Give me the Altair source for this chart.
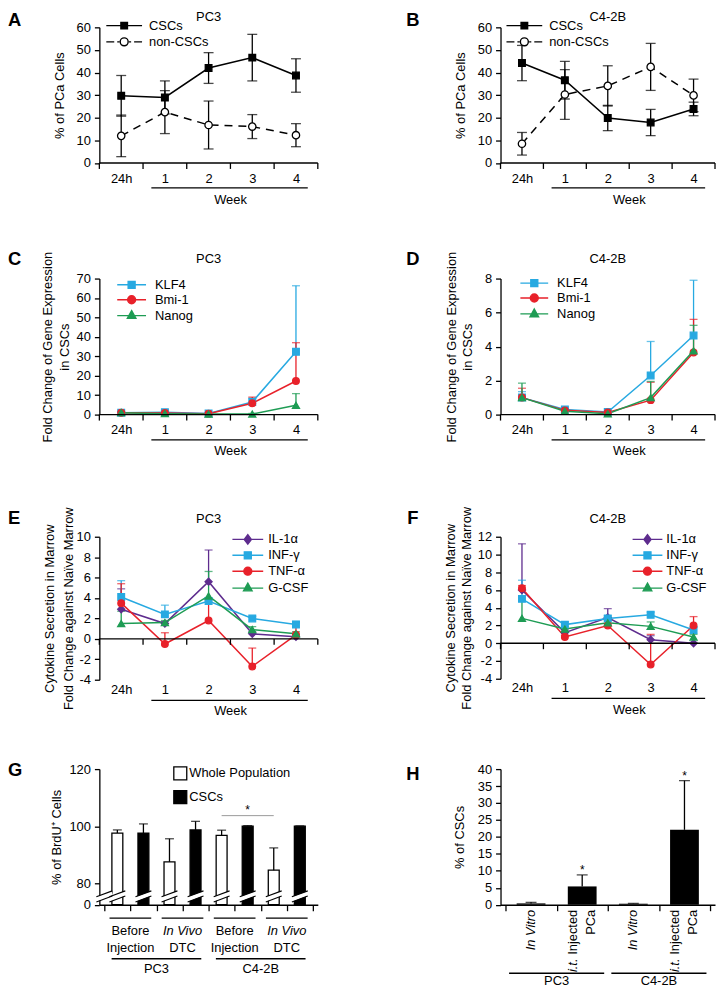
import altair as alt
import pandas as pd

FONT = "Liberation Sans"
FS = 13
LW = 1.3
TC = 40  # generous tick count so explicit tick values are never thinned

BLUE = "#27a9e1"
RED = "#e8212a"
GREEN = "#1e9c54"
PURPLE = "#5e2c8e"

# ======================= DATA =======================
TIME_LABELS = ["24h", "1", "2", "3", "4"]
TIME_POS = [0, 1, 2, 3, 4]
WEEK_CENTER = 2.49

POP_NAMES = ["CSCs", "non-CSCs"]
# A - PC3, % of PCa cells (mean, SD)
A_CSC = [29.7, 29.0, 42.0, 46.6, 38.7]
A_CSC_SD = [9.0, 7.3, 6.8, 10.3, 7.4]
A_NON = [12.0, 22.5, 16.8, 16.1, 12.3]
A_NON_SD = [9.2, 9.5, 10.6, 5.3, 5.1]
# B - C4-2B
B_CSC = [44.2, 36.6, 19.9, 17.9, 23.9]
B_CSC_SD = [7.8, 8.3, 5.6, 5.8, 3.0]
B_NON = [8.5, 30.3, 34.1, 42.5, 29.9]
B_NON_SD = [5.0, 11.0, 8.9, 10.4, 7.2]

GENES = ["KLF4", "Bmi-1", "Nanog"]
# C - PC3 fold change (mean, upper end of error bar)
C_KLF4 = [1.0, 1.2, 0.6, 6.5, 32.3]
C_KLF4_UP = [1.8, 2.0, 1.0, 8.5, 66.3]
C_BMI1 = [1.0, 0.8, 0.5, 5.8, 17.3]
C_BMI1_UP = [1.5, 1.2, 0.8, 9.0, 37.0]
C_NANOG = [1.0, 0.5, 0.3, 0.3, 4.8]
C_NANOG_UP = [1.4, 0.8, 0.5, 0.6, 10.8]
# D - C4-2B
D_KLF4 = [1.0, 0.30, 0.15, 2.3, 4.65]
D_KLF4_UP = [1.35, 0.40, 0.20, 4.3, 7.9]
D_BMI1 = [1.0, 0.25, 0.12, 0.85, 3.65]
D_BMI1_UP = [1.55, 0.35, 0.18, 1.9, 5.6]
D_NANOG = [1.0, 0.20, 0.05, 1.0, 3.75]
D_NANOG_UP = [1.85, 0.30, 0.10, 1.95, 5.25]

CYTOKINES = ["IL-1α", "INF-γ", "TNF-α", "G-CSF"]
# E - PC3 cytokines
E_IL1A = [2.9, 1.5, 5.6, 0.5, 0.2]
E_IL1A_UP = [4.9, 1.7, 8.7, 0.7, 0.4]
E_INFG = [4.1, 2.4, 3.7, 2.0, 1.4]
E_INFG_UP = [5.7, 3.3, 4.0, 2.2, 1.7]
E_TNFA = [3.5, -0.5, 1.8, -2.7, 0.4]
E_TNFA_UP = [5.4, 0.6, 3.8, -0.9, 1.6]
E_GCSF = [1.5, 1.6, 4.2, 0.9, 0.5]
E_GCSF_UP = [2.7, 1.8, 6.6, 1.2, 0.7]
# F - C4-2B cytokines
F_IL1A = [6.0, 1.2, 2.9, 0.4, 0.0]
F_IL1A_UP = [11.2, 1.5, 3.9, 0.85, 0.1]
F_INFG = [5.0, 2.1, 2.8, 3.2, 1.5]
F_INFG_UP = [7.1, 2.4, 3.1, 3.5, 1.8]
F_TNFA = [6.2, 0.7, 2.0, -2.4, 2.0]
F_TNFA_UP = [6.5, 0.9, 2.2, 1.0, 3.0]
F_GCSF = [2.8, 1.6, 2.3, 1.9, 0.7]
F_GCSF_UP = [4.8, 1.9, 2.6, 2.4, 1.0]

# G - % BrdU+ cells
G_POPS = ["Whole Population", "CSCs"]
G_COND = ["Before Injection", "In Vivo DTC", "Before Injection", "In Vivo DTC"]
G_LINE = ["PC3", "PC3", "C4-2B", "C4-2B"]
G_WHOLE = [97.6, 87.5, 96.8, 84.6]
G_WHOLE_TOP = [98.7, 95.6, 98.6, 92.4]
G_CSC = [97.6, 98.7, 100.0, 100.0]
G_CSC_TOP = [100.8, 101.7, 100.2, 100.1]
G_SIG_BARS = [4, 6]
G_SIG_Y = 103.7
G_BREAK = 31

# H - % of CSCs
H_COND = ["In Vitro", "i.t. Injected PCa", "In Vitro", "i.t. Injected PCa"]
H_LINE = ["PC3", "PC3", "C4-2B", "C4-2B"]
H_VAL = [0.4, 5.4, 0.3, 22.1]
H_TOP = [0.7, 8.8, 0.4, 36.6]
H_SIG = ["", "*", "", "*"]

ONE = pd.DataFrame({"k": [0]})
SYM_SIZE = 100
SYM_UNIT = 5.0
LETTER_FS = 18.5


def f3(v):
    s = "%.3f" % v
    s = s.rstrip("0").rstrip(".")
    return "0" if s in ("-0", "") else s


def legend_path(kind, half, m, dashed=False):
    if dashed:
        segs = [(-half, -10), (-7, -4.8), (4.8, 7), (10, half)]
    else:
        segs = [(-half, half)]
    p = "".join("M%s,0H%s" % (f3(a / SYM_UNIT), f3(b / SYM_UNIT)) for a, b in segs)
    r = m / SYM_UNIT
    if kind == "square":
        p += "M%s,%sH%sV%sH%sZ" % (f3(-r), f3(-r), f3(r), f3(r), f3(-r))
    elif kind == "circle":
        p += "M%s,0A%s,%s,0,1,1,%s,0A%s,%s,0,1,1,%s,0Z" % (f3(r), f3(r), f3(r), f3(-r), f3(r), f3(r), f3(r))
    elif kind == "triangle-up":
        p += "M0,%sL%s,%sL%s,%sZ" % (f3(-1.15 * r), f3(r), f3(0.65 * r), f3(-r), f3(0.65 * r))
    elif kind == "diamond":
        p += "M0,%sL%s,0L0,%sL%s,0Z" % (f3(-1.2 * r), f3(0.9 * r), f3(1.2 * r), f3(-0.9 * r))
    return p


def text_layer(txt, x, y, size=FS, weight="normal", align="left", style="normal"):
    return alt.Chart(ONE).mark_text(font=FONT, fontSize=size, fontWeight=weight, fontStyle=style,
                                    align=align, baseline="alphabetic", color="black").encode(
        x=alt.value(x), y=alt.value(y), text=alt.value(txt))


def line_panel(p):
    W, H = p["W"], p["H"]
    n = len(TIME_POS)
    xs = alt.Scale(domain=[-0.5, n - 0.5], nice=False, zero=False)
    ys = alt.Scale(domain=p["ydom"], nice=False, zero=False)
    label_expr = "[" + ",".join("'%s'" % t for t in TIME_LABELS) + "][datum.value]"
    xaxis = alt.Axis(values=TIME_POS, tickCount=TC, labelExpr=label_expr, domain=False, ticks=False, tickSize=0,
                     grid=False, labelPadding=p["lp"], labelFlush=False, labelOverlap=False, labelAngle=0,
                     title="Week", titleX=(WEEK_CENTER + 0.5) / n * W, titleY=p["wk"],
                     titleAlign="center", titleBaseline="middle")
    yaxis = alt.Axis(values=p["yticks"], tickCount=TC, format="d", grid=False, tickSize=5, labelPadding=4,
                     labelOverlap=False, title=p["ytitle"], titleX=p["tx"], titleY=H / 2, titleAlign="center",
                     titleBaseline="middle", titleLineHeight=p.get("tlh", 17),
                     labelExpr="replace(datum.label, '\u2212', '-')")
    X = alt.X("pos:Q", scale=xs)
    dfs = []
    for s in p["series"]:
        dfs.append(pd.DataFrame({"pos": TIME_POS, "value": s["v"], "hi": s["hi"], "lo": s["lo"]}))
    # first layer carries the axes (invisible)
    layers = [alt.Chart(dfs[0]).mark_point(opacity=0).encode(
        x=alt.X("pos:Q", scale=xs, axis=xaxis), y=alt.Y("value:Q", scale=ys, axis=yaxis))]
    # error bars
    for s, df in zip(p["series"], dfs):
        layers.append(alt.Chart(df).mark_rule(color=s["c"], strokeWidth=LW).encode(
            x=X, y=alt.Y("lo:Q", scale=ys), y2="hi:Q"))
        layers.append(alt.Chart(df).mark_tick(orient="horizontal", size=p["cap"], thickness=LW,
                                              color=s["c"]).encode(
            x=X, y=alt.Y("hi:Q", scale=ys)))
        if p["lowcap"]:
            layers.append(alt.Chart(df).mark_tick(orient="horizontal", size=p["cap"], thickness=LW,
                                                  color=s["c"]).encode(
                x=X, y=alt.Y("lo:Q", scale=ys)))
    # lines
    for s, df in zip(p["series"], dfs):
        kw = dict(color=s["c"], strokeWidth=1.5)
        if s.get("dash"):
            kw["strokeDash"] = s["dash"]
        layers.append(alt.Chart(df).mark_line(**kw).encode(x=X, y=alt.Y("value:Q", scale=ys)))
    # points
    for s, df in zip(p["series"], dfs):
        layers.append(alt.Chart(df).mark_point(shape=s["shape"], size=s["size"], filled=True, fill=s["fill"],
                                               stroke=s["c"], strokeWidth=LW, opacity=1).encode(
            x=X, y=alt.Y("value:Q", scale=ys)))
    # x axis line at zero, ticks at category boundaries, week underline
    layers.append(alt.Chart(ONE).mark_rule(color="black", strokeWidth=LW).encode(
        x=alt.datum(-0.5), x2=alt.datum(n - 0.5), y=alt.datum(0)))
    bdf = pd.DataFrame({"b": [t - 0.5 for t in TIME_POS] + [TIME_POS[-1] + 0.5]})
    layers.append(alt.Chart(bdf).mark_rule(color="black", strokeWidth=LW, y2Offset=6).encode(
        x=alt.X("b:Q", scale=xs), y=alt.datum(0), y2=alt.datum(0)))
    layers.append(alt.Chart(ONE).mark_rule(color="black", strokeWidth=LW).encode(
        x=alt.datum(0.69), x2=alt.datum(4.27), y=alt.value(H + p["ul"])))
    # legend (hidden carrier layer)
    L = p["leg"]
    names = [s["name"] for s in p["series"]]
    paths = [legend_path(s["shape"], L["w"] / 2, L["m"][s["shape"]], bool(s.get("dash"))) for s in p["series"]]
    leg = alt.Legend(orient="none", legendX=L["x"], legendY=L["y"], title=None, symbolSize=SYM_SIZE,
                     symbolOffset=L["w"] / 2 - 6.5, labelOffset=L["w"] / 2 + L["gap"] - 6.5,
                     rowPadding=L["rp"], symbolStrokeWidth=1.4, symbolOpacity=1, padding=0,
                     labelFont=FONT, labelFontSize=FS, labelColor="black")
    ldf = pd.DataFrame({"series": names, "pos": [0] * len(names), "value": [p["ydom"][0]] * len(names)})
    layers.append(alt.Chart(ldf).mark_point(opacity=0).encode(
        x=X, y=alt.Y("value:Q", scale=ys),
        fill=alt.Fill("series:N", scale=alt.Scale(domain=names, range=[s["fill"] for s in p["series"]]), legend=leg),
        stroke=alt.Stroke("series:N", scale=alt.Scale(domain=names, range=[s["c"] for s in p["series"]]), legend=leg),
        shape=alt.Shape("series:N", scale=alt.Scale(domain=names, range=paths), legend=leg)))
    # panel title and letter
    layers.append(text_layer(p["title"], W / 2, p["ty"], align="center"))
    layers.append(text_layer(p["letter"], p["lx"], p["ly"], size=LETTER_FS, weight="bold"))
    return alt.layer(*layers).properties(width=W, height=H)


def pop_series(v, sd, name, filled_black):
    return dict(name=name, v=v, hi=[a + b for a, b in zip(v, sd)], lo=[a - b for a, b in zip(v, sd)],
                c="black", fill="black" if filled_black else "white",
                shape="square" if filled_black else "circle", size=45 if filled_black else 55,
                dash=None if filled_black else [8, 6])


def up_series(name, v, up, c, shape):
    return dict(name=name, v=v, hi=up, lo=v, c=c, fill=c, shape=shape,
                size=50 if shape in ("triangle-up", "diamond") else 45)


MK_AB = {"square": 3.3, "circle": 4.0}
MK_CF = {"square": 3.5, "circle": 4.0, "triangle-up": 4.3, "diamond": 4.0}

A = line_panel(dict(
    W=220, H=136.6, ydom=[0, 60], yticks=[0, 10, 20, 30, 40, 50, 60], ytitle="% of PCa Cells", tx=-40,
    title="PC3", ty=-6, letter="A", lx=-92, ly=-1, lp=9.5, wk=37, ul=25, cap=10, lowcap=True,
    series=[pop_series(A_CSC, A_CSC_SD, POP_NAMES[0], True), pop_series(A_NON, A_NON_SD, POP_NAMES[1], False)],
    leg=dict(x=7, y=-8.2, w=36, gap=7, rp=1.3, m=MK_AB)))
B = line_panel(dict(
    W=216, H=136.6, ydom=[0, 60], yticks=[0, 10, 20, 30, 40, 50, 60], ytitle="% of PCa Cells", tx=-40,
    title="C4-2B", ty=-6, letter="B", lx=-95, ly=-1, lp=9.5, wk=37, ul=25, cap=10, lowcap=True,
    series=[pop_series(B_CSC, B_CSC_SD, POP_NAMES[0], True), pop_series(B_NON, B_NON_SD, POP_NAMES[1], False)],
    leg=dict(x=6, y=-8.2, w=36, gap=7, rp=1.3, m=MK_AB)))

GENE_STYLE = [(BLUE, "square"), (RED, "circle"), (GREEN, "triangle-up")]
C = line_panel(dict(
    W=220, H=137, ydom=[0, 70], yticks=[0, 10, 20, 30, 40, 50, 60, 70],
    ytitle=["Fold Change of Gene Expression", "in CSCs"], tx=-52, tlh=16.5,
    title="PC3", ty=-15.7, letter="C", lx=-92, ly=-13.7, lp=9, wk=36.5, ul=25.5, cap=8, lowcap=False,
    series=[up_series(g, v, u, c, sh) for g, v, u, (c, sh) in zip(
        GENES, [C_KLF4, C_BMI1, C_NANOG], [C_KLF4_UP, C_BMI1_UP, C_NANOG_UP], GENE_STYLE)],
    leg=dict(x=18, y=-0.2, w=29, gap=9, rp=0, m=MK_CF)))
D = line_panel(dict(
    W=216, H=137, ydom=[0, 8], yticks=[0, 2, 4, 6, 8],
    ytitle=["Fold Change of Gene Expression", "in CSCs"], tx=-49, tlh=15.5,
    title="C4-2B", ty=-15.7, letter="D", lx=-95, ly=-13.7, lp=9, wk=36.5, ul=25.5, cap=8, lowcap=False,
    series=[up_series(g, v, u, c, sh) for g, v, u, (c, sh) in zip(
        GENES, [D_KLF4, D_BMI1, D_NANOG], [D_KLF4_UP, D_BMI1_UP, D_NANOG_UP], GENE_STYLE)],
    leg=dict(x=20, y=-1.9, w=28, gap=9, rp=0, m=MK_CF)))

CYTO_STYLE = [(PURPLE, "diamond"), (BLUE, "square"), (RED, "circle"), (GREEN, "triangle-up")]
CYTO_TITLE = ["Cytokine Secretion in Marrow", "Fold Change against Naïve Marrow"]
E = line_panel(dict(
    W=220, H=144, ydom=[-4, 10], yticks=[-4, -2, 0, 2, 4, 6, 8, 10], ytitle=CYTO_TITLE, tx=-50.5, tlh=19,
    title="PC3", ty=-13.7, letter="E", lx=-92, ly=-13, lp=3.7, wk=31, ul=20.7, cap=8, lowcap=False,
    series=[up_series(g, v, u, c, sh) for g, v, u, (c, sh) in zip(
        CYTOKINES, [E_IL1A, E_INFG, E_TNFA, E_GCSF], [E_IL1A_UP, E_INFG_UP, E_TNFA_UP, E_GCSF_UP], CYTO_STYLE)],
    leg=dict(x=134, y=-3.8, w=31, gap=5, rp=1, m=MK_CF)))
F = line_panel(dict(
    W=216, H=143, ydom=[-4, 12], yticks=[-4, -2, 0, 2, 4, 6, 8, 10, 12], ytitle=CYTO_TITLE, tx=-50.5, tlh=16.5,
    title="C4-2B", ty=-13.7, letter="F", lx=-94, ly=-13, lp=3.2, wk=30.7, ul=19.7, cap=8, lowcap=False,
    series=[up_series(g, v, u, c, sh) for g, v, u, (c, sh) in zip(
        CYTOKINES, [F_IL1A, F_INFG, F_TNFA, F_GCSF], [F_IL1A_UP, F_INFG_UP, F_TNFA_UP, F_GCSF_UP], CYTO_STYLE)],
    leg=dict(x=133, y=-3.8, w=30, gap=4, rp=1, m=MK_CF)))


# ---------------- G ----------------
def panel_g():
    W, H = 220, 136.6
    n = 2 * len(G_COND)
    xs = alt.Scale(domain=[-0.5, n - 0.5], nice=False, zero=False)
    ys = alt.Scale(domain=[0, 80, 120], range=[H, H - 21.6, 0], nice=False, zero=False)
    xaxis = alt.Axis(values=[i - 0.5 for i in range(n + 1)], tickCount=TC, labels=False, ticks=True, tickSize=6,
                     domain=True, grid=False, title=None)
    yaxis = alt.Axis(values=[0, 80, 100, 120], tickCount=TC, format="d", grid=False, tickSize=5, labelPadding=4,
                     labelOverlap=False, title="% of BrdU\u207a Cells", titleX=-43, titleY=H / 2,
                     titleAlign="center", titleBaseline="middle")
    rows = []
    for k in range(len(G_COND)):
        rows.append(dict(pos=2 * k, value=G_WHOLE[k], top=G_WHOLE_TOP[k], pop=G_POPS[0]))
        rows.append(dict(pos=2 * k + 1, value=G_CSC[k], top=G_CSC_TOP[k], pop=G_POPS[1]))
    df = pd.DataFrame(rows)
    X = alt.X("pos:Q", scale=xs)
    leg = alt.Legend(orient="none", legendX=74, legendY=-3.2, title=None, symbolType="square",
                     symbolSize=170, symbolStrokeColor="black", symbolStrokeWidth=LW, labelOffset=1.5,
                     rowPadding=5, padding=0, labelFont=FONT, labelFontSize=FS, labelColor="black")
    layers = [
        alt.Chart(df).mark_bar(size=11, stroke="black", strokeWidth=LW).encode(
            x=alt.X("pos:Q", scale=xs, axis=xaxis),
            y=alt.Y("value:Q", scale=ys, axis=yaxis), y2=alt.datum(0),
            fill=alt.Fill("pop:N", scale=alt.Scale(domain=G_POPS, range=["white", "black"]), legend=leg)),
        alt.Chart(df).mark_rule(color="black", strokeWidth=LW).encode(
            x=X, y=alt.Y("value:Q", scale=ys), y2="top:Q"),
        alt.Chart(df).mark_tick(orient="horizontal", size=9, thickness=LW, color="black").encode(
            x=X, y=alt.Y("top:Q", scale=ys)),
    ]
    brk = pd.DataFrame({"p": [-0.5] + list(range(n))})
    for off, col, sw in [(0, "white", 4.5), (-2.6, "black", 1.1), (2.6, "black", 1.1)]:
        layers.append(alt.Chart(brk).mark_rule(color=col, strokeWidth=sw, xOffset=-8, x2Offset=8,
                                               yOffset=3 + off, y2Offset=-3 + off).encode(
            x=alt.X("p:Q", scale=xs), x2="p:Q", y=alt.datum(G_BREAK), y2=alt.datum(G_BREAK)))
    # significance
    layers.append(alt.Chart(ONE).mark_rule(color="#9a9a9a", strokeWidth=1).encode(
        x=alt.datum(G_SIG_BARS[0]), x2=alt.datum(G_SIG_BARS[1]), y=alt.datum(G_SIG_Y)))
    layers.append(alt.Chart(ONE).mark_text(font=FONT, fontSize=12, baseline="alphabetic", dy=-1.5,
                                           color="black").encode(
        x=alt.datum(sum(G_SIG_BARS) / 2), y=alt.datum(G_SIG_Y), text=alt.value("*")))
    # category labels below axis
    pc = [2 * k + 0.5 for k in range(len(G_COND))]
    pair = pd.DataFrame({"c": pc, "a": [c - 0.8 for c in pc], "b": [c + 0.8 for c in pc]})
    layers.append(alt.Chart(pair).mark_rule(color="black", strokeWidth=LW).encode(
        x=alt.X("a:Q", scale=xs), x2="b:Q", y=alt.value(H + 13.4)))
    for k, cond in enumerate(G_COND):
        first, second = cond.rsplit(" ", 1)
        style = "italic" if first.startswith("In Vivo") else "normal"
        for txt, yy, st in [(first, H + 26.7, style), (second, H + 43.4, "normal")]:
            layers.append(alt.Chart(ONE).mark_text(font=FONT, fontSize=FS, fontStyle=st, align="center",
                                                   baseline="middle", color="black").encode(
                x=alt.datum(pc[k]), y=alt.value(yy), text=alt.value(txt)))
    lines = list(dict.fromkeys(G_LINE))
    for ln in lines:
        cs = [pc[k] for k in range(len(G_COND)) if G_LINE[k] == ln]
        c = sum(cs) / len(cs)
        layers.append(alt.Chart(ONE).mark_rule(color="black", strokeWidth=LW).encode(
            x=alt.datum(c - 1.72), x2=alt.datum(c + 1.72), y=alt.value(H + 54.4)))
        layers.append(alt.Chart(ONE).mark_text(font=FONT, fontSize=FS, align="center", baseline="middle",
                                               color="black").encode(
            x=alt.datum(c), y=alt.value(H + 65), text=alt.value(ln)))
    layers.append(text_layer("G", -92, 6.6, size=LETTER_FS, weight="bold"))
    return alt.layer(*layers).properties(width=W, height=H)


# ---------------- H ----------------
def panel_h():
    W, H = 216, 136.6
    n = len(H_COND)
    xs = alt.Scale(domain=[-0.5, n - 0.5], nice=False, zero=False)
    ys = alt.Scale(domain=[0, 40], nice=False, zero=False)
    xaxis = alt.Axis(values=[i - 0.5 for i in range(n + 1)], tickCount=TC, labels=False, ticks=True, tickSize=6,
                     domain=True, grid=False, title=None)
    yaxis = alt.Axis(values=list(range(0, 41, 5)), tickCount=TC, format="d", grid=False, tickSize=5,
                     labelPadding=4, labelOverlap=False, title="% of CSCs", titleX=-41, titleY=H / 2,
                     titleAlign="center", titleBaseline="middle")
    df = pd.DataFrame({"pos": list(range(n)), "value": H_VAL, "top": H_TOP, "sig": H_SIG})
    X = alt.X("pos:Q", scale=xs)
    layers = [
        alt.Chart(df).mark_bar(size=29, color="black").encode(
            x=alt.X("pos:Q", scale=xs, axis=xaxis),
            y=alt.Y("value:Q", scale=ys, axis=yaxis), y2=alt.datum(0)),
        alt.Chart(df).mark_rule(color="black", strokeWidth=LW).encode(
            x=X, y=alt.Y("value:Q", scale=ys), y2="top:Q"),
        alt.Chart(df).mark_tick(orient="horizontal", size=11, thickness=LW, color="black").encode(
            x=X, y=alt.Y("top:Q", scale=ys)),
        alt.Chart(df[df["sig"] != ""]).mark_text(font=FONT, fontSize=12, baseline="alphabetic", dy=-1,
                                                 color="black").encode(
            x=X, y=alt.Y("top:Q", scale=ys), text="sig:N"),
    ]
    top = H + 5
    for k, cond in enumerate(H_COND):
        if cond.startswith("i.t."):
            first, rest = cond.split(" ", 1)
            word, second = rest.rsplit(" ", 1)
            parts = [(word, -9.5, top, "normal"), (first, -9.5, top + 49.1, "italic"), (second, 9, top, "normal")]
        else:
            parts = [(cond, 0, top, "italic")]
        for txt, xo, yy, st in parts:
            layers.append(alt.Chart(ONE).mark_text(font=FONT, fontSize=FS, fontStyle=st, angle=270,
                                                   align="right", baseline="middle", xOffset=xo,
                                                   color="black").encode(
                x=alt.datum(k), y=alt.value(yy), text=alt.value(txt)))
    lines = list(dict.fromkeys(H_LINE))
    for ln in lines:
        ks = [k for k in range(n) if H_LINE[k] == ln]
        c = sum(ks) / len(ks)
        layers.append(alt.Chart(ONE).mark_rule(color="black", strokeWidth=LW).encode(
            x=alt.datum(c - 0.93), x2=alt.datum(c + 0.93), y=alt.value(H + 69)))
        layers.append(alt.Chart(ONE).mark_text(font=FONT, fontSize=FS, align="center", baseline="middle",
                                               color="black").encode(
            x=alt.datum(c), y=alt.value(H + 77), text=alt.value(ln)))
    layers.append(text_layer("H", -95, 11, size=LETTER_FS, weight="bold"))
    return alt.layer(*layers).properties(width=W, height=H)


G = panel_g()
Hc = panel_h()


def spacer(h):
    return alt.Chart(ONE).mark_point(opacity=0, size=1).encode(
        x=alt.value(0), y=alt.value(0)).properties(width=1, height=h)


chart = alt.concat(
    A, B, spacer(115.4), spacer(115.4),
    C, D, spacer(122.3), spacer(122.3),
    E, F, spacer(89.7), spacer(89.7),
    G, Hc,
    columns=2, spacing={"row": 0, "column": 184}, bounds="flush", align="each",
).resolve_scale(fill="independent", stroke="independent", shape="independent"
).properties(padding=0, background="white").configure(font=FONT).configure_view(stroke=None).configure_axis(
    domainColor="black", domainWidth=LW, tickColor="black", tickWidth=LW,
    labelColor="black", labelFont=FONT, labelFontSize=FS, titleFont=FONT, titleFontSize=FS,
    titleFontWeight="normal", titleColor="black", labelOverlap=False
).configure_legend(labelFont=FONT, labelFontSize=FS, labelColor="black")

chart.save("out.html", embed_options={"renderer": "svg", "actions": False})
